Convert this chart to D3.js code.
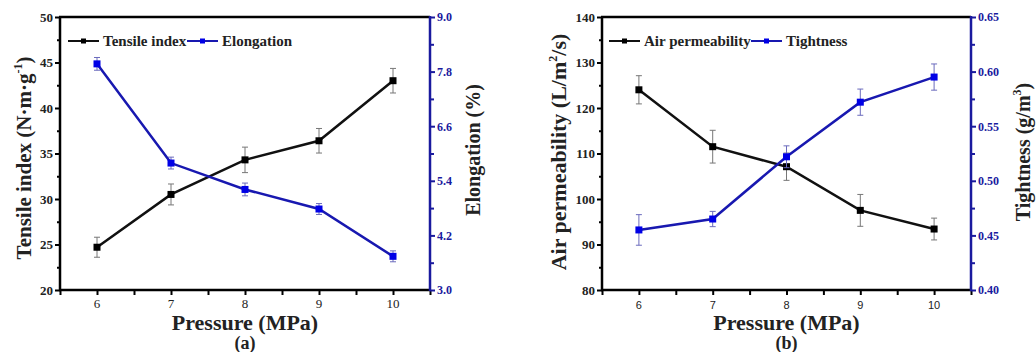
<!DOCTYPE html>
<html>
<head>
<meta charset="utf-8">
<script src="https://cdn.jsdelivr.net/npm/d3@7"></script>
<style>
  body { margin: 0; background: #fff; }
  svg { display: block; }
</style>
</head>
<body>
<script>
// data
const pressure = [6, 7, 8, 9, 10];

const tensile = [24.7, 30.5, 34.3, 36.4, 43.0];
const tensileErr = [1.1, 1.15, 1.4, 1.35, 1.35];
const elongation = [7.97, 5.79, 5.21, 4.78, 3.74];
const elongationErr = [0.14, 0.13, 0.14, 0.12, 0.12];

const airPerm = [124.0, 111.5, 107.1, 97.5, 93.4];
const airPermErr = [3.1, 3.6, 3.0, 3.5, 2.4];
const tightness = [0.455, 0.465, 0.522, 0.572, 0.595];
const tightnessErr = [0.014, 0.007, 0.010, 0.012, 0.012];

const serif = '"Liberation Serif", "Times New Roman", Times, "DejaVu Serif", serif';
const sans = '"Liberation Sans", Arial, sans-serif';
const blue = '#1818b0';
const blueAxis = '#1a1a9e';

const svg = d3.select('body').append('svg')
  .attr('width', 1036)
  .attr('height', 352)
  .attr('font-family', serif);

function drawPanel(p) {
  const g = svg.append('g').attr('font-family', serif);
  const x = d3.scaleLinear().domain([5.5, 10.5]).range([p.left, p.right]);
  const yL = d3.scaleLinear().domain(p.leftDomain).range([290, 17]);
  const yR = d3.scaleLinear().domain(p.rightDomain).range([290, 17]);

  // bottom axis
  const xAxis = g.append('g').attr('transform', 'translate(0,290)')
    .call(d3.axisBottom(x).tickValues(d3.range(5.5, 10.51, 0.5)).tickSize(5).tickFormat(''));
  xAxis.select('.domain').remove();
  xAxis.selectAll('line').attr('stroke', '#000').attr('stroke-width', 2);
  g.append('g').selectAll('text').data(pressure).enter().append('text')
    .attr('x', d => x(d)).attr('y', p.xTickY)
    .attr('text-anchor', 'middle')
    .attr('font-family', p.xTickFont)
    .attr('font-size', p.xTickSize)
    .attr('fill', '#222')
    .text(d => d);

  // left axis
  const lAxis = g.append('g').attr('transform', `translate(${p.left},0)`)
    .call(d3.axisLeft(yL).ticks(p.leftTicks).tickSize(5).tickPadding(2));
  lAxis.select('.domain').remove();
  lAxis.attr('font-family', serif).attr('font-size', 13).attr('font-weight', 'bold');
  lAxis.selectAll('line').attr('stroke', '#000').attr('stroke-width', 2);
  lAxis.selectAll('text').attr('fill', '#222');
  const lMinor = g.append('g').attr('transform', `translate(${p.left},0)`)
    .call(d3.axisLeft(yL).tickValues(p.leftMinor).tickSize(3).tickFormat(''));
  lMinor.select('.domain').remove();
  lMinor.selectAll('line').attr('stroke', '#000').attr('stroke-width', 2);

  // right axis
  const rAxis = g.append('g').attr('transform', `translate(${p.right},0)`)
    .call(d3.axisRight(yR).tickValues(p.rightTicks).tickSize(5).tickPadding(2).tickFormat(p.rightFormat));
  rAxis.select('.domain').remove();
  rAxis.attr('font-family', serif).attr('font-size', 12).attr('font-weight', 'bold');
  rAxis.selectAll('line').attr('stroke', blueAxis).attr('stroke-width', 2);
  rAxis.selectAll('text').attr('fill', blueAxis);
  const rMinor = g.append('g').attr('transform', `translate(${p.right},0)`)
    .call(d3.axisRight(yR).tickValues(p.rightMinor).tickSize(4).tickFormat(''));
  rMinor.select('.domain').remove();
  rMinor.selectAll('line').attr('stroke', blueAxis).attr('stroke-width', 2);

  // frame
  g.append('line').attr('x1', p.left).attr('x2', p.left).attr('y1', 17).attr('y2', 291)
    .attr('stroke', '#000').attr('stroke-width', 2.5);
  g.append('line').attr('x1', p.left - 1).attr('x2', p.right).attr('y1', 17).attr('y2', 17)
    .attr('stroke', '#000').attr('stroke-width', 2.5);
  g.append('line').attr('x1', p.left - 1).attr('x2', p.right).attr('y1', 290).attr('y2', 290)
    .attr('stroke', '#000').attr('stroke-width', 2.5);
  g.append('line').attr('x1', p.right).attr('x2', p.right).attr('y1', 16).attr('y2', 291)
    .attr('stroke', blueAxis).attr('stroke-width', 2.5);

  // series
  const series = [
    { vals: p.leftVals, errs: p.leftErrs, y: yL, color: '#111', errColor: '#777', mark: '#000' },
    { vals: p.rightVals, errs: p.rightErrs, y: yR, color: blue, errColor: '#6b6bbd', mark: '#0000e6' }
  ];
  series.forEach(s => {
    const pts = pressure.map((d, i) => ({ x: d, v: s.vals[i], e: s.errs[i] }));
    const eb = g.append('g').selectAll('g').data(pts).enter().append('g')
      .attr('stroke', s.errColor).attr('stroke-width', 1);
    eb.append('line').attr('x1', d => x(d.x)).attr('x2', d => x(d.x))
      .attr('y1', d => s.y(d.v + d.e)).attr('y2', d => s.y(d.v - d.e));
    eb.append('line').attr('x1', d => x(d.x) - 3).attr('x2', d => x(d.x) + 3)
      .attr('y1', d => s.y(d.v + d.e)).attr('y2', d => s.y(d.v + d.e));
    eb.append('line').attr('x1', d => x(d.x) - 3).attr('x2', d => x(d.x) + 3)
      .attr('y1', d => s.y(d.v - d.e)).attr('y2', d => s.y(d.v - d.e));

    g.append('path').datum(pts)
      .attr('fill', 'none').attr('stroke', s.color).attr('stroke-width', 2.5)
      .attr('d', d3.line().x(d => x(d.x)).y(d => s.y(d.v)));

    g.append('g').selectAll('rect').data(pts).enter().append('rect')
      .attr('x', d => x(d.x) - 3.5).attr('y', d => s.y(d.v) - 3.5)
      .attr('width', 7).attr('height', 7).attr('fill', s.mark);
  });

  // legend
  const leg = g.append('g').attr('font-weight', 'bold').attr('font-size', 15).attr('font-family', serif);
  p.legend.forEach((l, i) => {
    const c = i === 0 ? '#111' : blue;
    const m = i === 0 ? '#000' : '#0000e6';
    leg.append('line').attr('x1', l.x).attr('x2', l.x + 31).attr('y1', 41).attr('y2', 41)
      .attr('stroke', c).attr('stroke-width', 2);
    leg.append('rect').attr('x', l.x + 13).attr('y', 38.5).attr('width', 5).attr('height', 5).attr('fill', m);
    leg.append('text').attr('x', l.x + 35).attr('y', 46).attr('fill', '#222').text(l.label);
  });

  // titles
  const tl = g.append('text')
    .attr('transform', `translate(${p.leftTitleX},${p.leftTitleY}) rotate(-90)`)
    .attr('text-anchor', 'middle').attr('font-family', serif)
    .attr('font-weight', 'bold').attr('font-size', p.leftTitleSize).attr('fill', '#222');
  tl.append('tspan').text(p.leftTitle[0]);
  tl.append('tspan').attr('dy', -9).attr('font-size', 12).text(p.leftTitle[1]);
  tl.append('tspan').attr('dy', 9).text(p.leftTitle[2]);

  const tr = g.append('text')
    .attr('transform', `translate(${p.rightTitleX},${p.rightTitleY}) rotate(-90)`)
    .attr('text-anchor', 'middle').attr('font-family', serif)
    .attr('font-weight', 'bold').attr('font-size', 20).attr('fill', '#222');
  tr.append('tspan').text(p.rightTitle[0]);
  if (p.rightTitle[1]) {
    tr.append('tspan').attr('dy', -9).attr('font-size', 12).text(p.rightTitle[1]);
    tr.append('tspan').attr('dy', 9).text(p.rightTitle[2]);
  }

  g.append('text').attr('x', x(8)).attr('y', 330)
    .attr('text-anchor', 'middle').attr('font-family', serif)
    .attr('font-weight', 'bold').attr('font-size', 22).attr('fill', '#222')
    .text('Pressure (MPa)');
  g.append('text').attr('x', x(8)).attr('y', 349)
    .attr('text-anchor', 'middle').attr('font-family', serif)
    .attr('font-weight', 'bold').attr('font-size', 18).attr('fill', '#222')
    .text(p.tag);
}

drawPanel({
  left: 60, right: 430,
  leftDomain: [20, 50], leftTicks: 6, leftMinor: d3.range(22.5, 50, 5),
  rightDomain: [3, 9], rightTicks: [3, 4.2, 5.4, 6.6, 7.8, 9], rightMinor: [3.6, 4.8, 6, 7.2, 8.4],
  rightFormat: d3.format('.1f'),
  leftVals: tensile, leftErrs: tensileErr,
  rightVals: elongation, rightErrs: elongationErr,
  legend: [{ x: 68, label: 'Tensile index' }, { x: 187, label: 'Elongation' }],
  leftTitle: ['Tensile index (N\u00b7m\u00b7g', '-1', ')'], leftTitleX: 31, leftTitleY: 158, leftTitleSize: 21,
  rightTitle: ['Elongation (%)'], rightTitleX: 480, rightTitleY: 150,
  xTickFont: serif, xTickSize: 13, xTickY: 308,
  tag: '(a)'
});

drawPanel({
  left: 602, right: 971,
  leftDomain: [80, 140], leftTicks: 6, leftMinor: d3.range(85, 140, 10),
  rightDomain: [0.4, 0.65], rightTicks: d3.range(0.4, 0.651, 0.05), rightMinor: d3.range(0.425, 0.65, 0.05),
  rightFormat: d3.format('.2f'),
  leftVals: airPerm, leftErrs: airPermErr,
  rightVals: tightness, rightErrs: tightnessErr,
  legend: [{ x: 609, label: 'Air permeability' }, { x: 751, label: 'Tightness' }],
  leftTitle: ['Air permeability (L/m', '2', '/s)'], leftTitleX: 566, leftTitleY: 152, leftTitleSize: 22,
  rightTitle: ['Tightness (g/m', '3', ')'], rightTitleX: 1030, rightTitleY: 152,
  xTickFont: sans, xTickSize: 11, xTickY: 309,
  tag: '(b)'
});
</script>
</body>
</html>
